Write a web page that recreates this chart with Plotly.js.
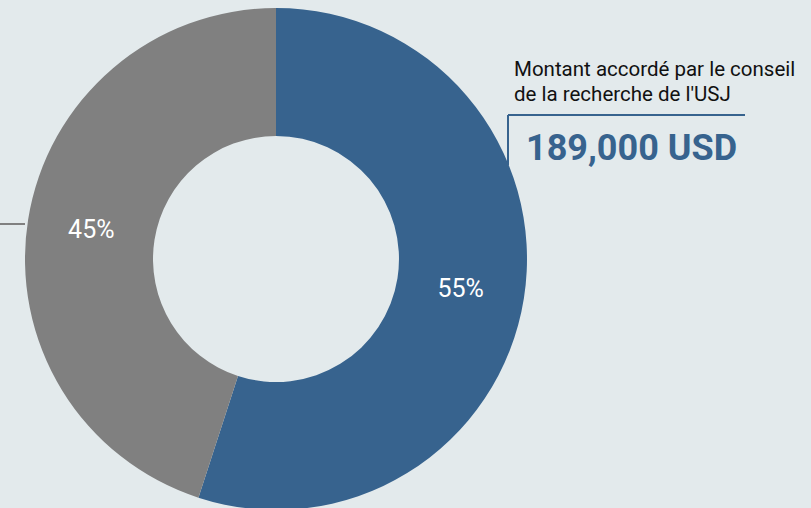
<!DOCTYPE html>
<html>
<head>
<meta charset="utf-8">
<script src="https://cdn.plot.ly/plotly-3.0.1.min.js"></script>
<style>html,body{margin:0;padding:0;background:#e3eaec;overflow:hidden;}#chart{width:811px;height:520px;}</style>
</head>
<body>
<div id="chart"></div>
<script>
const labels = ["Montant accordé par le conseil de la recherche de l'USJ", "Autres financements"];
const values = [55, 45];
const colors = ["#37638e", "#808080"];
const calloutLines = ["Montant accordé par le conseil", "de la recherche de l'USJ"];
const calloutAmount = "189,000 USD";

const W = 811, H = 520;
const px = x => x / W;
const py = y => 1 - y / H;

const trace = {
  type: 'pie',
  labels: labels,
  values: values,
  sort: false,
  direction: 'clockwise',
  rotation: 0,
  hole: 0.49,
  marker: {colors: colors, line: {width: 0}},
  textinfo: 'percent',
  textposition: 'inside',
  insidetextorientation: 'horizontal',
  textfont: {family: 'Roboto', size: 25, color: '#ffffff'},
  hoverinfo: 'label+percent',
  showlegend: false,
  domain: {x: [px(25), px(527)], y: [py(510), py(8)]}
};

const lineY = [69, 94];
const annotations = calloutLines.map((t, i) => ({
  text: t, xref: 'paper', yref: 'paper', x: px(512), y: py(lineY[i]),
  xanchor: 'left', yanchor: 'middle', align: 'left', showarrow: false,
  font: {family: 'Roboto', size: 20.5, color: '#111111'}
}));
annotations.push({text: '<b>' + calloutAmount + '</b>', xref: 'paper', yref: 'paper', x: px(524), y: py(148), xanchor: 'left', yanchor: 'middle', align: 'left', showarrow: false, font: {family: 'Roboto', size: 36, color: '#37638e'}});

const layout = {
  width: W, height: H,
  margin: {l: 0, r: 0, t: 0, b: 0},
  paper_bgcolor: '#e3eaec',
  plot_bgcolor: '#e3eaec',
  showlegend: false,
  shapes: [
    {type: 'line', xref: 'paper', yref: 'paper', x0: px(508), x1: px(745), y0: py(115), y1: py(115), line: {color: '#37638e', width: 2}},
    {type: 'line', xref: 'paper', yref: 'paper', x0: px(508), x1: px(508), y0: py(115), y1: py(165), line: {color: '#37638e', width: 2}},
    {type: 'line', xref: 'paper', yref: 'paper', x0: 0, x1: px(25), y0: py(224), y1: py(224), line: {color: '#808080', width: 2}}
  ],
  annotations: annotations
};

Plotly.newPlot('chart', [trace], layout, {displayModeBar: false, staticPlot: true});
</script>
</body>
</html>
